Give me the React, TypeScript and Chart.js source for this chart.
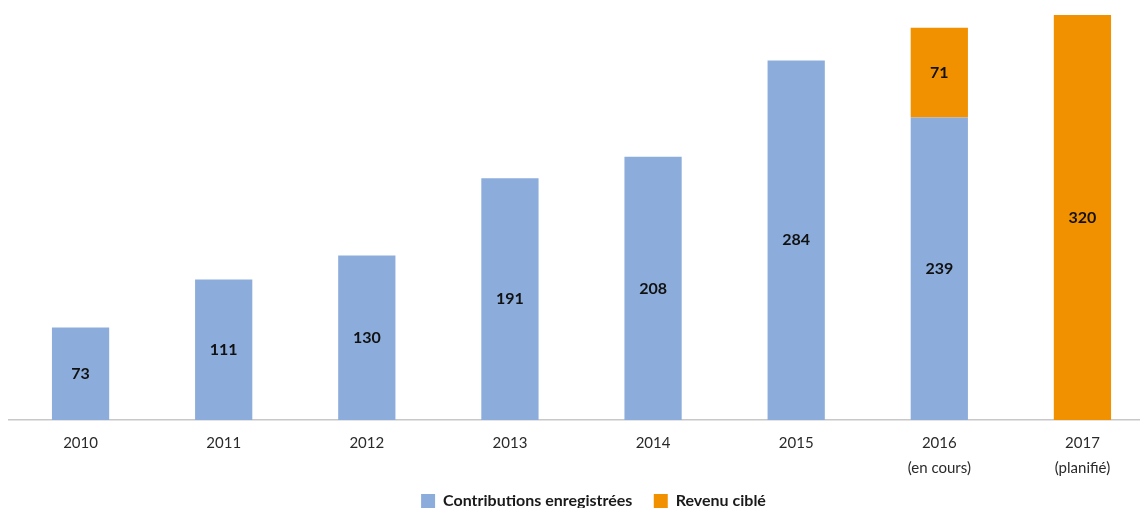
import React, { useEffect, useRef } from "react";
import { Chart, registerables } from "chart.js";

Chart.register(...registerables);

const categories: (string | string[])[] = [
  "2010",
  "2011",
  "2012",
  "2013",
  "2014",
  "2015",
  ["2016", "(en cours)"],
  ["2017", "(planifié)"],
];
const contributions: (number | null)[] = [73, 111, 130, 191, 208, 284, 239, null];
const revenuCible: (number | null)[] = [null, null, null, null, null, null, 71, 320];

const seriesNames = ["Contributions enregistrées", "Revenu ciblé"];
const BLUE = "#8CADDB";
const ORANGE = "#F29100";
const FONT = "Lato, 'Open Sans', sans-serif";

const labelPlugin = {
  id: "barLabels",
  afterDatasetsDraw(chart: any) {
    const ctx = chart.ctx;
    ctx.save();
    ctx.font = `bold 16px ${FONT}`;
    ctx.fillStyle = "#111111";
    ctx.textAlign = "center";
    ctx.textBaseline = "middle";
    chart.data.datasets.forEach((ds: any, di: number) => {
      const meta = chart.getDatasetMeta(di);
      meta.data.forEach((el: any, i: number) => {
        const v = ds.data[i];
        if (v === null || v === undefined) return;
        const { x, y, base } = el.getProps(["x", "y", "base"], true);
        ctx.fillText(String(v), x, (y + base) / 2);
      });
    });
    ctx.restore();
  },
};

const legendShift = {
  id: "legendShift",
  afterLayout(chart: any) {
    if (chart.legend) {
      chart.legend.left += 12;
      chart.legend.right += 12;
    }
  },
};

export default function App() {
  const ref = useRef<HTMLCanvasElement | null>(null);
  useEffect(() => {
    if (!ref.current) return;
    const chart = new Chart(ref.current, {
      type: "bar",
      data: {
        labels: categories as any,
        datasets: [
          {
            label: seriesNames[0],
            data: contributions,
            backgroundColor: BLUE,
            barPercentage: 0.4,
            categoryPercentage: 1,
          },
          {
            label: seriesNames[1],
            data: revenuCible,
            backgroundColor: ORANGE,
            barPercentage: 0.4,
            categoryPercentage: 1,
          },
        ],
      },
      options: {
        animation: false,
        responsive: true,
        maintainAspectRatio: false,
        layout: { padding: { left: 9, right: 6, top: 15, bottom: 0 } },
        scales: {
          x: {
            stacked: true,
            grid: { display: false, drawTicks: false },
            border: { display: true, color: "#c8c8c8", width: 1.5 },
            ticks: {
              color: "#2a2a2a",
              font: { family: FONT, size: 15, lineHeight: 1.7 },
              padding: 10,
              maxRotation: 0,
            },
          },
          y: {
            stacked: true,
            display: false,
            min: 0,
            max: 320,
          },
        },
        plugins: {
          legend: {
            position: "bottom",
            labels: {
              boxWidth: 14,
              boxHeight: 14,
              padding: 2,
              color: "#1a1a1a",
              font: { family: FONT, size: 16, weight: "bold" },
              generateLabels(chart: any) {
                const base = Chart.defaults.plugins.legend.labels.generateLabels(chart);
                return base.map((item: any, i: number) =>
                  i === 0 ? { ...item, text: item.text + "     " } : item
                );
              },
            },
          },
          tooltip: { enabled: false },
        },
      },
      plugins: [labelPlugin, legendShift],
    });
    return () => chart.destroy();
  }, []);
  return (
    <div
      style={{
        position: "fixed",
        left: 0,
        top: 0,
        width: 1160,
        height: 519,
        background: "#ffffff",
      }}
    >
      <canvas ref={ref} />
    </div>
  );
}
